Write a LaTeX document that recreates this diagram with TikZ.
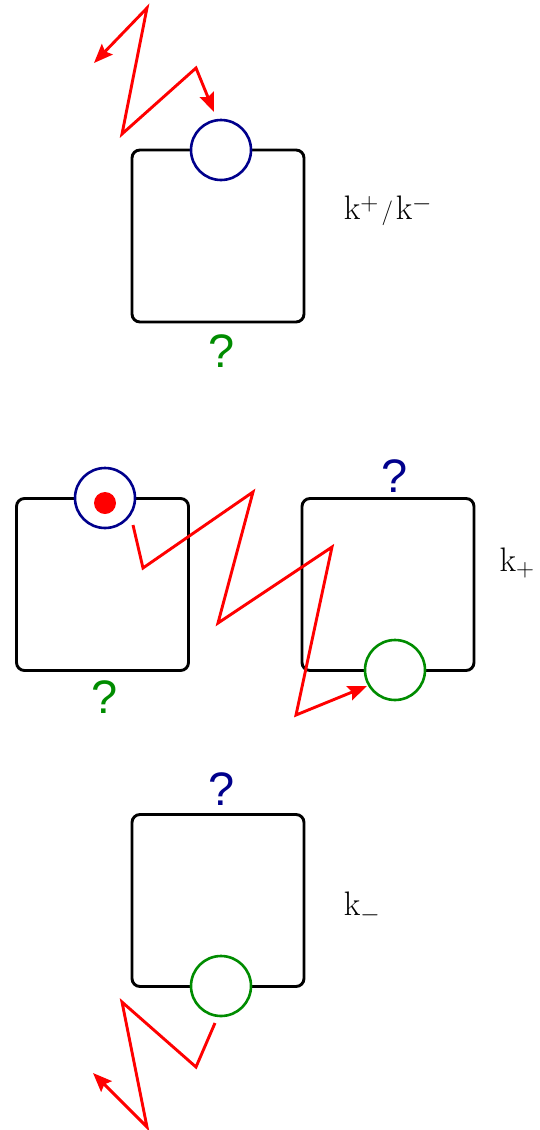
\documentclass[tikz,border=0pt]{standalone}
\usepackage{fontspec}
\setsansfont{Liberation Sans}
\usetikzlibrary{arrows.meta}
\definecolor{dblue}{RGB}{0,0,140}
\definecolor{dgreen}{RGB}{0,140,0}
\begin{document}
\begin{tikzpicture}[x=1pt,y=-1pt,
  boxnode/.style={draw=black,line width=2.9pt,rounded corners=8pt,minimum width=172pt,minimum height=172pt,inner sep=0pt},
  bluering/.style={circle,draw=dblue,fill=white,line width=2.6pt,minimum size=60pt,inner sep=0pt},
  greenring/.style={circle,draw=dgreen,fill=white,line width=2.6pt,minimum size=60pt,inner sep=0pt},
  photon/.style={draw=red,line width=2.9pt,line join=miter},
  qmark/.style={font=\sffamily\fontsize{47}{47}\selectfont,inner sep=0pt},
  klabel/.style={font=\fontsize{34}{34}\selectfont,inner sep=0pt}]
\useasboundingbox (0,0) rectangle (539,1130);
% top
\node[boxnode] (b1) at (218,236) {};
\node[bluering] (c1) at (221,150) {};
\node[qmark,text=dgreen] (q1) at (222,351) {?};
\node[klabel] (k1) at (388,211) {$\mathrm{k}^+\mkern2mu/\mkern2mu\mathrm{k}^-$};
\coordinate (t0) at (94,63);
\coordinate (t1) at (147,8);
\coordinate (t2) at (122,134);
\coordinate (t3) at (196,68);
\coordinate (t4) at (214,112);
\draw[photon,{Stealth[length=19pt,width=15pt,inset=3pt]}-{Stealth[length=19pt,width=15pt,inset=3pt]}] (t0) -- (t1) -- (t2) -- (t3) -- (t4);
% middle
\node[boxnode] (b2) at (102.5,584.5) {};
\node[bluering] (c2) at (105,498) {};
\node[circle,fill=red,minimum size=22pt,inner sep=0pt] (dot) at (105,503) {};
\node[qmark,text=dgreen] (q2) at (105,697) {?};
\node[boxnode] (b3) at (388,584.5) {};
\node[greenring] (c3) at (395,670) {};
\node[qmark,text=dblue] (q3) at (395,476) {?};
\node[klabel] (k2) at (517,563) {$\mathrm{k}_+$};
\coordinate (m0) at (133,525);
\coordinate (m1) at (143,568);
\coordinate (m2) at (253,492);
\coordinate (m3) at (218,623);
\coordinate (m4) at (332,547);
\coordinate (m5) at (296,715);
\coordinate (m6) at (367,686);
\draw[photon,-{Stealth[length=19pt,width=15pt,inset=3pt]}] (m0) -- (m1) -- (m2) -- (m3) -- (m4) -- (m5) -- (m6);
% bottom
\node[boxnode] (b4) at (218,900.5) {};
\node[greenring] (c4) at (221,986) {};
\node[qmark,text=dblue] (q4) at (222,789) {?};
\node[klabel] (k3) at (362,908) {$\mathrm{k}_-$};
\coordinate (u0) at (215,1023);
\coordinate (u1) at (196,1067);
\coordinate (u2) at (122,1002);
\coordinate (u3) at (147,1127);
\coordinate (u4) at (93,1073);
\draw[photon,-{Stealth[length=19pt,width=15pt,inset=3pt]}] (u0) -- (u1) -- (u2) -- (u3) -- (u4);
\end{tikzpicture}
\end{document}
